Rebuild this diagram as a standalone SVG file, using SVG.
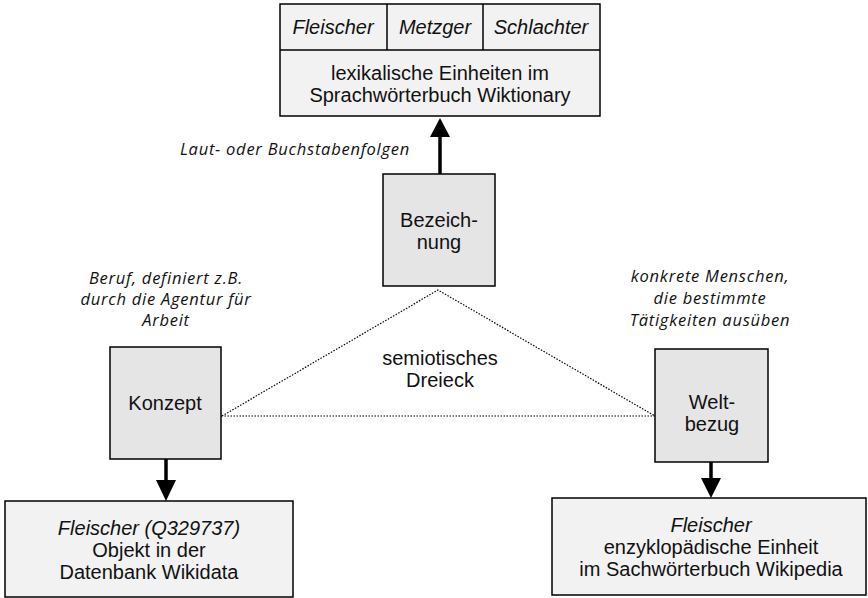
<svg xmlns="http://www.w3.org/2000/svg" width="868" height="598" viewBox="0 0 868 598">
<style>
.box{fill:#f2f2f2;stroke:#000;stroke-width:1.5}
.node{fill:#e5e5e5;stroke:#000;stroke-width:1.5}
.t{font-family:"Liberation Sans",Arial,sans-serif;font-size:20px;fill:#111;text-anchor:middle}
.i{font-style:italic}
.a{font-family:"Open Sans","DejaVu Sans",sans-serif;font-style:italic;font-size:16.5px;letter-spacing:0.75px;fill:#111;text-anchor:middle}
.dot{stroke:#000;stroke-width:1.2;stroke-dasharray:1.5 1.5;fill:none}
.arr{stroke:#000;stroke-width:3.5;fill:none}
</style>
<g id="connectors">
<path class="dot" d="M222,416 L438,290 L655,416 Z"/>
<line class="arr" x1="440" y1="174" x2="440" y2="137"/>
<path d="M430,137 L450,137 L440,118 Z" fill="#000"/>
<line class="arr" x1="166" y1="459" x2="166" y2="481"/>
<path d="M156,480 L176,480 L166,501 Z" fill="#000"/>
<line class="arr" x1="711" y1="462" x2="711" y2="479"/>
<path d="M701,478 L721,478 L711,498 Z" fill="#000"/>
</g>
<g id="wiktionary">
<rect class="box" x="280" y="4" width="320" height="112"/>
<line x1="280" y1="50" x2="600" y2="50" stroke="#000" stroke-width="1.5"/>
<line x1="387" y1="4" x2="387" y2="50" stroke="#000" stroke-width="1.5"/>
<line x1="483" y1="4" x2="483" y2="50" stroke="#000" stroke-width="1.5"/>
<text class="t i" x="333" y="34">Fleischer</text>
<text class="t i" x="435" y="34">Metzger</text>
<text class="t i" x="541" y="34">Schlachter</text>
<text class="t" x="440" y="80">lexikalische Einheiten im</text>
<text class="t" x="440" y="102">Sprachwörterbuch Wiktionary</text>
</g>
<g id="bezeichnung">
<rect class="node" x="383" y="174" width="112" height="112"/>
<text class="t" x="439" y="227">Bezeich-</text>
<text class="t" x="439" y="249">nung</text>
</g>
<g id="konzept">
<rect class="node" x="110" y="347" width="111" height="112"/>
<text class="t" x="165" y="410">Konzept</text>
</g>
<g id="weltbezug">
<rect class="node" x="655" y="349" width="113" height="113"/>
<text class="t" x="712" y="409">Welt-</text>
<text class="t" x="712" y="431">bezug</text>
</g>
<g id="wikidata">
<rect class="box" x="5" y="501" width="288" height="96"/>
<text class="t i" x="149" y="535">Fleischer (Q329737)</text>
<text class="t" x="149" y="557">Objekt in der</text>
<text class="t" x="149" y="579">Datenbank Wikidata</text>
</g>
<g id="wikipedia">
<rect class="box" x="552" y="498" width="314" height="97"/>
<text class="t i" x="711" y="532">Fleischer</text>
<text class="t" x="711" y="554">enzyklopädische Einheit</text>
<text class="t" x="711" y="576">im Sachwörterbuch Wikipedia</text>
</g>
<g id="labels">
<text class="a" x="295" y="155">Laut- oder Buchstabenfolgen</text>
<text class="a" x="166" y="284">Beruf, definiert z.B.</text>
<text class="a" x="166" y="305">durch die Agentur für</text>
<text class="a" x="166" y="326">Arbeit</text>
<text class="a" x="710" y="282">konkrete Menschen,</text>
<text class="a" x="710" y="304">die bestimmte</text>
<text class="a" x="710" y="326">Tätigkeiten ausüben</text>
<text class="t" x="440" y="365">semiotisches</text>
<text class="t" x="440" y="387">Dreieck</text>
</g>
</svg>
